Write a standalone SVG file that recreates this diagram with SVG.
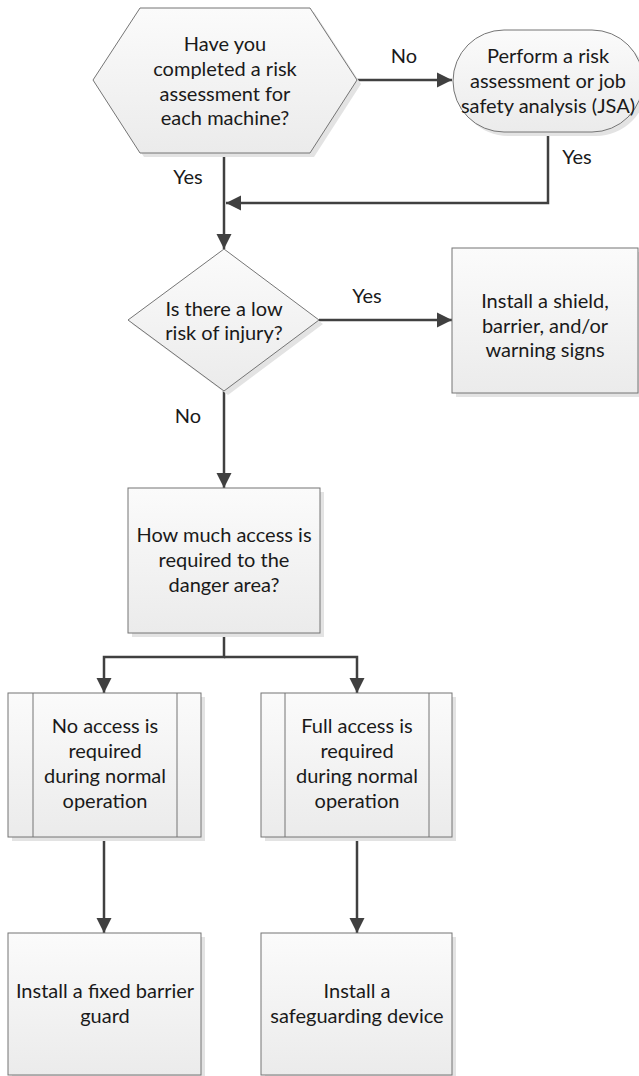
<svg xmlns="http://www.w3.org/2000/svg" width="639" height="1076" viewBox="0 0 639 1076">
<defs>
<linearGradient id="fillg" x1="0" y1="0" x2="0" y2="1">
<stop offset="0" stop-color="#fbfbfb"/>
<stop offset="1" stop-color="#ebebeb"/>
</linearGradient>
<marker id="arr" markerUnits="userSpaceOnUse" markerWidth="16" markerHeight="16" refX="15" refY="8" orient="auto">
<path d="M0,0.5 L15,8 L0,15.5 Z" fill="#404040"/>
</marker>
<style>
.shape{fill:url(#fillg);stroke:#757575;stroke-width:1}
.shadow{fill:#e3e3e3;stroke:none}
.line{fill:none;stroke:#404040;stroke-width:2.5}
.txt{font-family:Lato,"Liberation Sans",sans-serif;font-size:20px;fill:#1a1a1a;text-anchor:middle}
</style>
</defs>
<rect width="639" height="1076" fill="#ffffff"/>

<g id="connectors">
<line class="line" x1="357" y1="80" x2="452" y2="80" marker-end="url(#arr)"/>
<polyline class="line" points="548,132 548,203 226,203" marker-end="url(#arr)"/>
<line class="line" x1="224" y1="153" x2="224" y2="249" marker-end="url(#arr)"/>
<line class="line" x1="319" y1="320" x2="452" y2="320" marker-end="url(#arr)"/>
<line class="line" x1="224" y1="391" x2="224" y2="488" marker-end="url(#arr)"/>
<polyline class="line" points="224,633 224,657 104,657 104,693" marker-end="url(#arr)"/>
<polyline class="line" points="224,657 357,657 357,693" marker-end="url(#arr)"/>
<line class="line" x1="104" y1="837" x2="104" y2="933" marker-end="url(#arr)"/>
<line class="line" x1="357" y1="837" x2="357" y2="933" marker-end="url(#arr)"/>
<text class="txt" x="404" y="63">No</text>
<text class="txt" x="577" y="164">Yes</text>
<text class="txt" x="188" y="184">Yes</text>
<text class="txt" x="367" y="303">Yes</text>
<text class="txt" x="188" y="423">No</text>
</g>

<g id="q-risk-assessment">
<polygon class="shadow" points="144,12 314,12 361,84 314,157 144,157 97,84"/>
<polygon class="shape" points="140,8 310,8 357,80 310,153 140,153 93,80"/>
<text class="txt" x="225" y="51">Have you</text>
<text class="txt" x="225" y="76">completed a risk</text>
<text class="txt" x="225" y="101">assessment for</text>
<text class="txt" x="225" y="125">each machine?</text>
</g>

<g id="perform-jsa">
<rect class="shadow" x="457" y="34" width="190" height="102" rx="51" ry="51"/>
<rect class="shape" x="453" y="30" width="190" height="102" rx="51" ry="51"/>
<text class="txt" x="548" y="63">Perform a risk</text>
<text class="txt" x="548" y="88">assessment or job</text>
<text class="txt" x="548" y="113">safety analysis (JSA)</text>
</g>

<g id="q-low-risk">
<polygon class="shadow" points="228,253 323,324 228,395 132,324"/>
<polygon class="shape" points="224,249 319,320 224,391 128,320"/>
<text class="txt" x="224" y="316">Is there a low</text>
<text class="txt" x="224" y="340">risk of injury?</text>
</g>

<g id="install-shield">
<rect class="shadow" x="456" y="252" width="186" height="145"/>
<rect class="shape" x="452" y="248" width="186" height="145"/>
<text class="txt" x="545" y="308">Install a shield,</text>
<text class="txt" x="545" y="333">barrier, and/or</text>
<text class="txt" x="545" y="357">warning signs</text>
</g>

<g id="q-access">
<rect class="shadow" x="132" y="492" width="192" height="145"/>
<rect class="shape" x="128" y="488" width="192" height="145"/>
<text class="txt" x="224" y="542">How much access is</text>
<text class="txt" x="224" y="567">required to the</text>
<text class="txt" x="224" y="592">danger area?</text>
</g>

<g id="no-access">
<rect class="shadow" x="12" y="697" width="193" height="144"/>
<rect class="shape" x="8" y="693" width="193" height="144"/>
<line x1="33" y1="693" x2="33" y2="837" stroke="#757575" stroke-width="1"/>
<line x1="177" y1="693" x2="177" y2="837" stroke="#757575" stroke-width="1"/>
<text class="txt" x="105" y="733">No access is</text>
<text class="txt" x="105" y="758">required</text>
<text class="txt" x="105" y="783">during normal</text>
<text class="txt" x="105" y="808">operation</text>
</g>

<g id="full-access">
<rect class="shadow" x="265" y="697" width="191" height="144"/>
<rect class="shape" x="261" y="693" width="191" height="144"/>
<line x1="285" y1="693" x2="285" y2="837" stroke="#757575" stroke-width="1"/>
<line x1="429" y1="693" x2="429" y2="837" stroke="#757575" stroke-width="1"/>
<text class="txt" x="357" y="733">Full access is</text>
<text class="txt" x="357" y="758">required</text>
<text class="txt" x="357" y="783">during normal</text>
<text class="txt" x="357" y="808">operation</text>
</g>

<g id="fixed-guard">
<rect class="shadow" x="12" y="937" width="193" height="145"/>
<rect class="shape" x="8" y="933" width="193" height="142"/>
<text class="txt" x="105" y="998">Install a fixed barrier</text>
<text class="txt" x="105" y="1023">guard</text>
</g>

<g id="safeguarding-device">
<rect class="shadow" x="265" y="937" width="191" height="145"/>
<rect class="shape" x="261" y="933" width="191" height="142"/>
<text class="txt" x="357" y="998">Install a</text>
<text class="txt" x="357" y="1023">safeguarding device</text>
</g>
</svg>
